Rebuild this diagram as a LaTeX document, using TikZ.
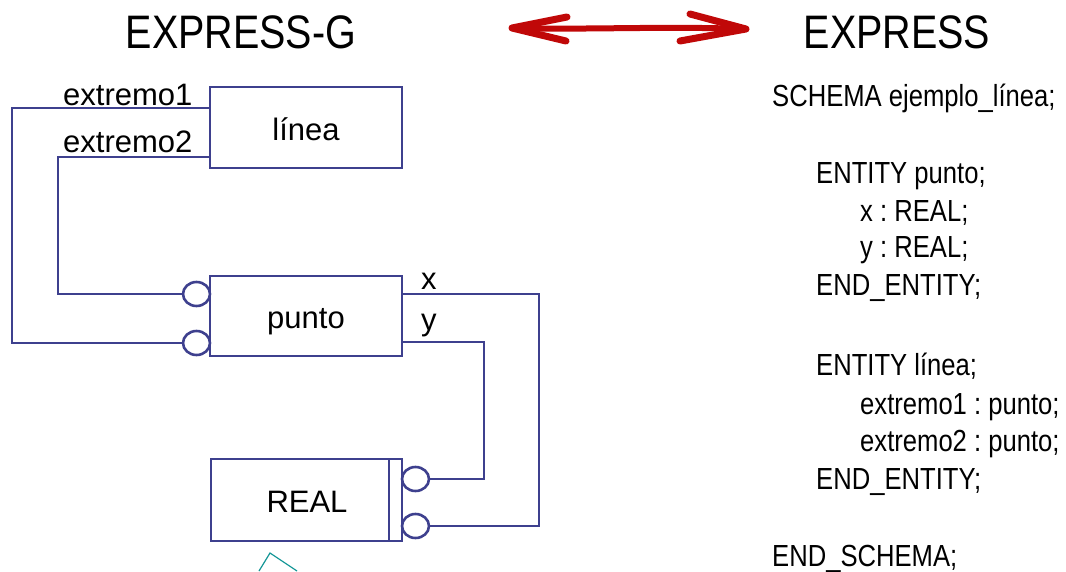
\documentclass[tikz,border=0pt]{standalone}
\usepackage{fontspec}
\setmainfont{Liberation Sans}
\newfontfamily\narrowfont{Liberation Sans}[FakeStretch=0.84]
\usetikzlibrary{shapes.geometric}
\frenchspacing
\definecolor{edgeblue}{RGB}{62,64,142}
\definecolor{arrowred}{RGB}{192,8,8}
\definecolor{markteal}{RGB}{20,150,150}
\tikzset{
  entity/.style={draw=edgeblue, line width=2.6pt, inner sep=0pt},
  label/.style={anchor=base, inner sep=0pt, font=\fontsize{31}{36}\selectfont},
  ring/.style={draw=edgeblue, line width=2.6pt, ellipse, inner sep=0pt,
    minimum width=27pt, minimum height=24pt, fill=white},
  link/.style={draw=edgeblue, line width=2.6pt},
  role/.style={anchor=base west, inner sep=0pt, font=\fontsize{31}{36}\selectfont},
  title/.style={anchor=base, inner sep=0pt, font=\narrowfont\fontsize{47}{52}\selectfont},
  code/.style={anchor=base west, inner sep=0pt, font=\narrowfont\fontsize{30.5}{36}\selectfont},
}
\begin{document}
\begin{tikzpicture}[x=1pt,y=-1pt]
\useasboundingbox (0,0) rectangle (1066,571);

% titles and the two-way arrow between them
\node[title] (tg) at (241,48) {EXPRESS-G};
\node[title] (te) at (897,48) {EXPRESS};
\coordinate (al) at (512,28);
\coordinate (ar) at (746,29);
\draw[arrowred, line width=6pt, line cap=round, line join=round]
  (al) .. controls (590,30) and (660,26) .. (ar);
\draw[arrowred, line width=7pt, line cap=round, line join=round]
  (567,17) -- (al) -- (566,41);
\draw[arrowred, line width=7pt, line cap=round, line join=round]
  (690,14) -- (ar) -- (680,41);

% entities
\node[entity, minimum width=192pt, minimum height=81pt] (linea) at (306,127.5) {};
\node[label] (tl) at (306,140) {línea};
\node[entity, minimum width=192pt, minimum height=80pt] (punto) at (306,316) {};
\node[label] (tp) at (306,328) {punto};
\node[entity, minimum width=191pt, minimum height=82pt] (real) at (306.5,500) {};
\node[label] (tr) at (307,512) {REAL};
\coordinate (rt) at (389,459);
\coordinate (rb) at (389,541);
\draw[link] (rt) -- (rb);

% attribute rings
\node[ring] (r1) at (196.5,294) {};
\node[ring] (r2) at (196.5,343) {};
\node[ring] (r3) at (415.5,479) {};
\node[ring] (r4) at (415.5,526) {};

% attribute connectors
\coordinate (e1) at (210,108);
\coordinate (e2) at (210,157);
\coordinate (px) at (402,294);
\coordinate (py) at (402,342);
\draw[link] (e1) -- (12,108) -- (12,343) -- (r2.west);
\draw[link] (e2) -- (58,157) -- (58,294) -- (r1.west);
\draw[link] (px) -- (539,294) -- (539,526) -- (r4.east);
\draw[link] (py) -- (484,342) -- (484,479) -- (r3.east);

% attribute names
\node[role] (n1) at (63,105) {extremo1};
\node[role] (n2) at (63,152) {extremo2};
\node[role] (nx) at (421,289) {x};
\node[role] (ny) at (421,330) {y};

% partly visible mark below REAL
\draw[markteal, line width=1.2pt] (259,571) -- (270,553) -- (297,571);

% textual schema
\node[code] (c1)  at (772,106) {SCHEMA ejemplo\_línea;};
\node[code] (c2)  at (816,183) {ENTITY punto;};
\node[code] (c3)  at (860,221) {x : REAL;};
\node[code] (c4)  at (860,257) {y : REAL;};
\node[code] (c5)  at (816,295) {END\_ENTITY;};
\node[code] (c6)  at (816,375) {ENTITY línea;};
\node[code] (c7)  at (860,414) {extremo1 : punto;};
\node[code] (c8)  at (860,451) {extremo2 : punto;};
\node[code] (c9)  at (816,489) {END\_ENTITY;};
\node[code] (c10) at (772,566) {END\_SCHEMA;};
\end{tikzpicture}
\end{document}
